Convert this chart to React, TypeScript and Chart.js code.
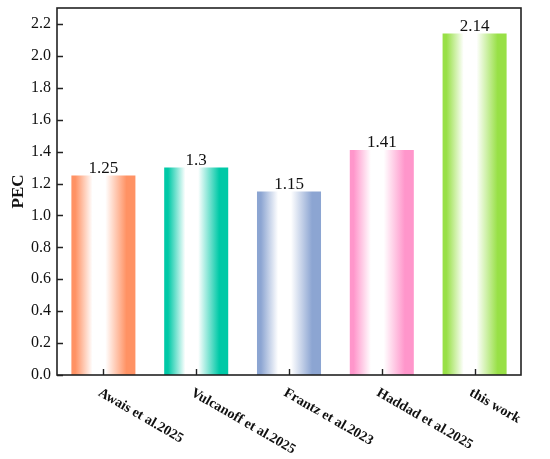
import React, { useEffect, useRef } from "react";
import { Chart, registerables } from "chart.js";

Chart.register(...registerables);

const categories = ["Awais et al.2025", "Vulcanoff et al.2025", "Frantz et al.2023", "Haddad et al.2025", "this work"];
const values = [1.25, 1.3, 1.15, 1.41, 2.14];
const barColors = ["#FF9264", "#00C9A7", "#8CA5D2", "#FF96CB", "#98E046"];
const yTicks = [0, 0.2, 0.4, 0.6, 0.8, 1.0, 1.2, 1.4, 1.6, 1.8, 2.0, 2.2];

const BAR_PCT = 0.69;
const FONT = "'Liberation Serif', 'Times New Roman', serif";

const decorPlugin = {
  id: "decor",
  afterDatasetsDraw(chart: any) {
    const { ctx, chartArea } = chart;
    const xs = chart.scales.x;
    const ys = chart.scales.y;
    ctx.save();
    // inward ticks
    ctx.strokeStyle = "#222";
    ctx.lineWidth = 1.4;
    ctx.beginPath();
    ys.ticks.forEach((t: any) => {
      const y = Math.round(ys.getPixelForValue(t.value)) + 0.5;
      ctx.moveTo(chartArea.left, y);
      ctx.lineTo(chartArea.left + 6, y);
    });
    categories.forEach((_, i) => {
      const x = Math.round(xs.getPixelForTick(i)) + 0.5;
      ctx.moveTo(x, chartArea.bottom);
      ctx.lineTo(x, chartArea.bottom - 6);
    });
    ctx.stroke();
    // frame
    ctx.lineWidth = 1.6;
    ctx.strokeRect(chartArea.left, chartArea.top, chartArea.right - chartArea.left, chartArea.bottom - chartArea.top);

    // value labels
    const meta = chart.getDatasetMeta(0);
    ctx.fillStyle = "#111";
    ctx.font = `17px ${FONT}`;
    ctx.textAlign = "center";
    ctx.textBaseline = "alphabetic";
    meta.data.forEach((bar: any, i: number) => {
      ctx.fillText(String(values[i]), bar.x, bar.y - 3);
    });

    // rotated x labels
    ctx.font = `bold 14px ${FONT}`;
    ctx.textAlign = "left";
    categories.forEach((label, i) => {
      const x = xs.getPixelForTick(i);
      ctx.save();
      ctx.translate(x - 6, chartArea.bottom + 20);
      ctx.rotate(Math.PI / 6);
      ctx.fillText(label, 0, 0);
      ctx.restore();
    });
    ctx.restore();
  },
};

export default function App() {
  const ref = useRef<HTMLCanvasElement>(null);
  useEffect(() => {
    if (!ref.current) return;
    const chart = new Chart(ref.current, {
      type: "bar",
      data: {
        labels: categories,
        datasets: [
          {
            data: values,
            barPercentage: BAR_PCT,
            categoryPercentage: 1,
            backgroundColor: (c: any) => {
              const chart = c.chart;
              const color = barColors[c.dataIndex % barColors.length];
              const xs = chart.scales?.x;
              if (!xs || !chart.chartArea) return color;
              const cx = xs.getPixelForValue(c.dataIndex);
              const half = (xs.width / categories.length) * BAR_PCT / 2;
              const g = chart.ctx.createLinearGradient(cx - half, 0, cx + half, 0);
              g.addColorStop(0, color);
              g.addColorStop(0.06, color);
              g.addColorStop(0.33, "#ffffff");
              g.addColorStop(0.53, "#ffffff");
              g.addColorStop(0.86, color);
              g.addColorStop(1, color);
              return g;
            },
            borderWidth: 0,
          },
        ],
      },
      options: {
        animation: false,
        responsive: true,
        maintainAspectRatio: false,
        layout: { padding: { top: 8, right: 29, left: 0, bottom: 0 } },
        plugins: { legend: { display: false }, tooltip: { enabled: false } },
        scales: {
          x: {
            type: "category",
            offset: true,
            grid: { display: false, drawTicks: false },
            border: { display: false },
            ticks: { display: false },
            afterFit: (s: any) => {
              s.height = 84;
              s.paddingLeft = 0;
              s.paddingRight = 0;
            },
          },
          y: {
            min: 0,
            max: 2.3,
            afterBuildTicks: (s: any) => {
              s.ticks = yTicks.map((v) => ({ value: v }));
            },
            grid: { display: false, drawTicks: false },
            border: { display: false },
            ticks: {
              padding: 6,
              color: "#111",
              font: { family: FONT, size: 16 },
              callback: (v: any) => Number(v).toFixed(1),
            },
            title: {
              display: true,
              text: "PEC",
              color: "#111",
              font: { family: FONT, size: 17, weight: "bold" },
              padding: { top: 8, bottom: 0 },
            },
            afterFit: (s: any) => {
              s.width = 57;
              s.paddingTop = 0;
              s.paddingBottom = 0;
            },
          },
        },
      },
      plugins: [decorPlugin],
    });
    return () => chart.destroy();
  }, []);
  return (
    <div style={{ position: "fixed", left: 0, top: 0, width: 550, height: 459, background: "#fff" }}>
      <canvas ref={ref} />
    </div>
  );
}
